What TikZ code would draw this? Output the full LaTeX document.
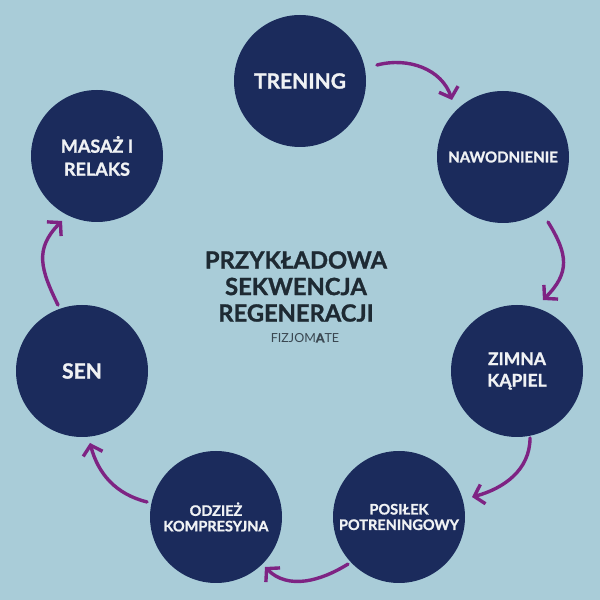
\documentclass[tikz,border=0pt]{standalone}
\usepackage{fontspec}
\setmainfont{Lato}[BoldFeatures={FakeBold=1.2}]
\usetikzlibrary{arrows.meta,calc}
\definecolor{bg}{HTML}{A9CCD8}
\definecolor{navy}{HTML}{1B2B5C}
\definecolor{purp}{HTML}{7E2383}
\definecolor{ttl}{HTML}{1E2A33}
\definecolor{subttl}{HTML}{3A4751}
\definecolor{txt}{HTML}{F0F2F4}
\begin{document}
\begin{tikzpicture}[x=1pt,y=1pt,
  stage/.style={circle, fill=navy, minimum size=132pt, inner sep=0pt, text=txt, align=center},
  arr/.style={draw=purp, line width=3.4pt, line cap=round, -{Straight Barb[length=9pt,width=20pt]}}]
\fill[bg] (0,0) rectangle (600,600);
\useasboundingbox (0,0) rectangle (600,600);

\node[stage, font=\bfseries\fontsize{21}{25}\selectfont] (trening) at (300,519) {TRENING};
\node[stage, font=\bfseries\fontsize{15}{18}\selectfont] (nawo) at (503,443) {NAWODNIENIE};
\node[stage, font=\bfseries\fontsize{17.5}{21.5}\selectfont] (zimna) at (517,229) {ZIMNA\\KĄPIEL};
\node[stage, font=\bfseries\fontsize{14.5}{15.5}\selectfont] (posilek) at (399,83) {POSIŁEK\\POTRENINGOWY};
\node[stage, font=\bfseries\fontsize{14.5}{15.5}\selectfont] (odziez) at (216,83) {ODZIEŻ\\KOMPRESYJNA};
\node[stage, font=\bfseries\fontsize{21}{25}\selectfont] (sen) at (82,229) {SEN};
\node[stage, font=\bfseries\fontsize{18}{23}\selectfont] (masaz) at (97,444) {MASAŻ I\\RELAKS};

\node[align=center, text=ttl, font=\bfseries\fontsize{23.7}{26.5}\selectfont] (title) at (296,313.5) {PRZYKŁADOWA\\SEKWENCJA\\REGENERACJI};
\node[text=subttl, font=\fontsize{12.5}{14}\selectfont, anchor=center] (brand) at (305,262) {FIZJOM{\bfseries A}TE};

\draw[arr] ($(trening)+(11.7:78.6)$) to[out=15, in=108] ($(nawo)+(131.8:76.5)$);
\draw[arr] ($(nawo)+(-55.3:79.1)$) to[out=-58, in=45, looseness=1.25] ($(zimna)+(69.9:75.6)$);
\draw[arr] ($(zimna)+(-79:68.2)$) to[out=-90, in=15] ($(posilek)+(15.3:75.7)$);
\draw[arr] ($(posilek)+(222.7:69.4)$) to[out=-148, in=-45] ($(odziez)+(-45.6:70)$);
\draw[arr] ($(odziez)+(167.7:70.6)$) to[out=166, in=-75] ($(sen)+(-83.7:72.4)$);
\draw[arr] ($(sen)+(110:70.2)$) to[out=116, in=-135, looseness=1.2] ($(masaz)+(241.7:73.8)$);
\end{tikzpicture}
\end{document}
